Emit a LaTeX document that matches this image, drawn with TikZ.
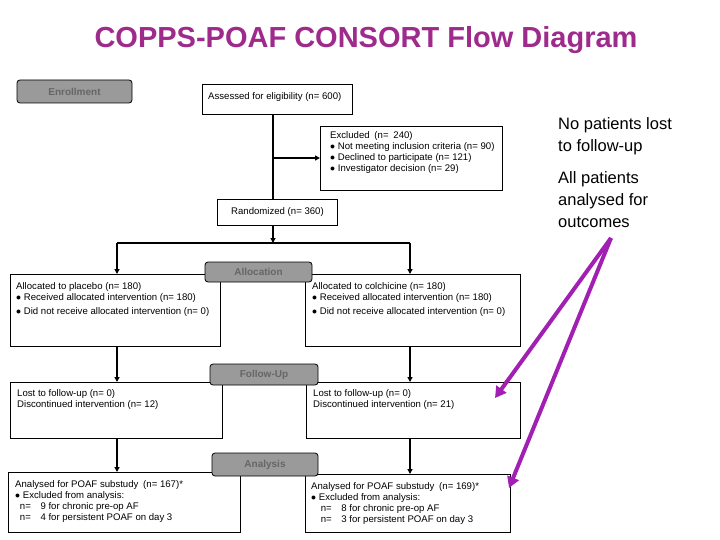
\documentclass[tikz,border=0pt]{standalone}
\usepackage{fontspec}
\setmainfont{Liberation Sans}
\usetikzlibrary{arrows.meta}
\definecolor{ttl}{HTML}{9E2A8C}
\definecolor{arr}{HTML}{A21FB4}
\definecolor{tab}{HTML}{9A9A9A}
\begin{document}
\begin{tikzpicture}[x=1pt,y=-1pt,
  box/.style={draw,line width=0.8pt,anchor=north west,inner sep=0pt},
  txt/.style={anchor=north west,font=\fontsize{9.6}{11}\selectfont,align=left,inner sep=0pt},
  tabn/.style={draw,fill=tab,rounded corners=3pt,line width=0.8pt,font=\fontsize{10}{11}\selectfont\bfseries,text=black!60,inner sep=0pt},
  ln/.style={line width=1.3pt},
  ar/.style={line width=1.3pt,-{Triangle[length=5pt,width=5pt]}},
  pa/.style={arr,line width=4pt,-{Triangle[length=11pt,width=12pt]}}]
\useasboundingbox (0,0) rectangle (720,540);
\node[font=\fontsize{29}{34}\selectfont\bfseries,text=ttl] (title) at (366,40) {COPPS-POAF CONSORT Flow Diagram};
% rectangles
\node[tabn,minimum width=115pt,minimum height=23pt] (enr) at (74.5,91.5) {Enrollment};
\node[box,minimum width=150pt,minimum height=30pt] (ass) at (202,84) {};
\node[txt] at (208,92) {Assessed for eligibility (n= 600)};
\node[box,minimum width=182pt,minimum height=64pt] (exc) at (320,126) {};
\node[txt] at (330,131) {Excluded\enspace(n=\enspace240)\\$\bullet$ Not meeting inclusion criteria (n= 90)\\$\bullet$ Declined to participate (n= 121)\\$\bullet$ Investigator decision (n= 29)};
\node[box,minimum width=120pt,minimum height=26pt] (ran) at (217,199) {};
\node[txt] at (231,207) {Randomized (n= 360)};
\node[box,minimum width=210pt,minimum height=72pt] (al) at (10,274) {};
\node[txt] at (16,282) {Allocated to placebo (n= 180)\\$\bullet$ Received allocated intervention (n= 180)\\[3pt]$\bullet$ Did not receive allocated intervention (n= 0)};
\node[box,minimum width=215pt,minimum height=72pt] (ar) at (305,274) {};
\node[txt] at (312,282) {Allocated to colchicine (n= 180)\\$\bullet$ Received allocated intervention (n= 180)\\[3pt]$\bullet$ Did not receive allocated intervention (n= 0)};
\node[tabn,minimum width=107pt,minimum height=20pt] (alt) at (258.5,272) {Allocation};
\node[box,minimum width=212pt,minimum height=56pt] (fl) at (10,382) {};
\node[txt] at (17,389) {Lost to follow-up (n= 0)\\Discontinued intervention (n= 12)};
\node[box,minimum width=214pt,minimum height=56pt] (fr) at (306,382) {};
\node[txt] at (313,389) {Lost to follow-up (n= 0)\\Discontinued intervention (n= 21)};
\node[tabn,minimum width=108pt,minimum height=21pt] (fut) at (264,374.5) {Follow-Up};
\node[box,minimum width=232pt,minimum height=60pt] (nl) at (8,472) {};
\node[txt] at (15,480) {Analysed for POAF substudy\enspace(n= 167)*\\$\bullet$ Excluded from analysis:\\\enspace n=\enspace\enspace 9 for chronic pre-op AF\\\enspace n=\enspace\enspace 4 for persistent POAF on day 3};
\node[box,minimum width=205pt,minimum height=58pt] (nr) at (305,474) {};
\node[txt] at (311,482) {Analysed for POAF substudy\enspace(n= 169)*\\$\bullet$ Excluded from analysis:\\\enspace\enspace n=\enspace\enspace 8 for chronic pre-op AF\\\enspace\enspace n=\enspace\enspace 3 for persistent POAF on day 3};
\node[tabn,minimum width=106pt,minimum height=23pt] (ant) at (265,464.5) {Analysis};
% connectors
\coordinate (b1) at (273,158);
\draw[ln] (ass.south -| b1) -- (ran.north -| b1);
\draw[ar] (b1) -- (b1 -| exc.west);
\coordinate (sp) at (273,243);
\draw[ar] (ran.south -| sp) -- (sp);
\draw[ln] (117,243) -- (410,243);
\draw[ar] (117,243) -- (117,274);
\draw[ar] (410,243) -- (410,274);
\draw[ar] (117,346) -- (117,382);
\draw[ar] (410,346) -- (410,382);
\draw[ar] (117,438) -- (117,472);
\draw[ar] (410,438) -- (410,474);
% side notes
\node[anchor=north west,font=\fontsize{16.5}{22}\selectfont,align=left,inner sep=0pt] (n1) at (558,117) {No patients lost\\to follow-up};
\node[anchor=north west,font=\fontsize{16.5}{22}\selectfont,align=left,inner sep=0pt] (n2) at (558,171) {All patients\\analysed for\\outcomes};
\coordinate (s) at (611,238);
\draw[pa] (s) -- (495,398);
\draw[pa] (s) -- (509,488);
\end{tikzpicture}
\end{document}
